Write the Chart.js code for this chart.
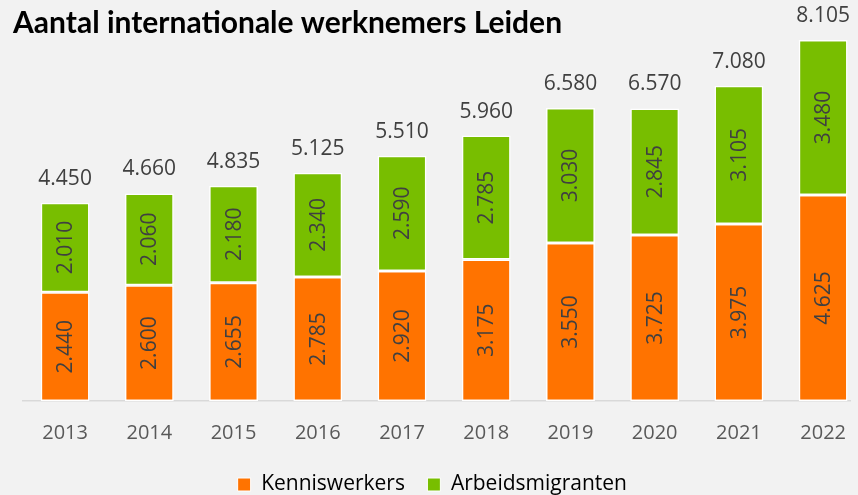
<!DOCTYPE html>
<html>
<head>
<meta charset="utf-8">
<script src="https://cdn.jsdelivr.net/npm/chart.js@4"></script>
<style>
  html, body { margin: 0; padding: 0; background: #f2f2f2; overflow: hidden; }
  /* a bit taller than the window so the legend sits as low as in the original */
  #wrap { width: 858px; height: 505px; position: relative; }
</style>
</head>
<body>
<div id="wrap"><canvas id="chart"></canvas></div>
<script>
const years = [2013, 2014, 2015, 2016, 2017, 2018, 2019, 2020, 2021, 2022];
const kenniswerkers = [2440, 2600, 2655, 2785, 2920, 3175, 3550, 3725, 3975, 4625];
const arbeidsmigranten = [2010, 2060, 2180, 2340, 2590, 2785, 3030, 2845, 3105, 3480];
const totals = [4450, 4660, 4835, 5125, 5510, 5960, 6580, 6570, 7080, 8105];

// ZWNJ keeps Lato from joining "ti" into a ligature
const titleText = 'Aantal interna\u200Ctionale werknemers Leiden';
const labelFont = '"Open Sans", sans-serif';

// 1234 -> "1.234"
function fmt(v) {
  return String(v).replace(/\B(?=(\d{3})+(?!\d))/g, '.');
}

const labelPlugin = {
  id: 'labelPlugin',
  afterDatasetsDraw(chart) {
    const ctx = chart.ctx;
    ctx.save();
    ctx.font = '21px ' + labelFont;
    ctx.fillStyle = '#404040';
    ctx.textAlign = 'center';
    ctx.textBaseline = 'middle';

    // values inside the bars, rotated
    chart.data.datasets.forEach((ds, di) => {
      const meta = chart.getDatasetMeta(di);
      meta.data.forEach((bar, i) => {
        const yMid = (bar.y + bar.base) / 2;
        ctx.save();
        ctx.translate(bar.x, yMid);
        ctx.rotate(-Math.PI / 2);
        ctx.fillText(fmt(ds.data[i]), 0, 1);
        ctx.restore();
      });
    });

    // totals above the stacks
    const top = chart.getDatasetMeta(1);
    top.data.forEach((bar, i) => {
      ctx.fillText(fmt(totals[i]), bar.x, bar.y - 24);
    });

    // title
    ctx.font = 'bold 30px Lato, sans-serif';
    ctx.fillStyle = '#000000';
    ctx.textAlign = 'left';
    ctx.textBaseline = 'alphabetic';
    ctx.fillText(titleText, 13, 33);
    ctx.restore();
  }
};

new Chart(document.getElementById('chart'), {
  type: 'bar',
  data: {
    labels: years,
    datasets: [
      {
        label: 'Kenniswerkers',
        data: kenniswerkers,
        backgroundColor: '#ff7300',
        borderColor: '#ffffff',
        borderWidth: 1.5,
        borderSkipped: false
      },
      {
        label: 'Arbeidsmigranten',
        data: arbeidsmigranten,
        backgroundColor: '#78be00',
        borderColor: '#ffffff',
        borderWidth: 1.5,
        borderSkipped: false
      }
    ]
  },
  options: {
    responsive: true,
    maintainAspectRatio: false,
    animation: false,
    datasets: {
      bar: { barPercentage: 0.58, categoryPercentage: 1 }
    },
    layout: {
      padding: { left: 23, right: 0, top: 2, bottom: 0 }
    },
    plugins: {
      title: { display: false },
      tooltip: { enabled: false },
      legend: {
        position: 'bottom',
        labels: {
          boxWidth: 13,
          boxHeight: 13,
          padding: 17,
          color: '#595959',
          font: { family: labelFont, size: 21 },
          generateLabels(chart) {
            // trailing spaces: gap after the first item, and the
            // whole legend nudged left so it centres on the window
            return chart.data.datasets.map((ds, i) => ({
              text: i === 0 ? ds.label + ' ' : ds.label + '   ',
              fillStyle: ds.backgroundColor,
              strokeStyle: '#ffffff',
              lineWidth: 1,
              datasetIndex: i
            }));
          }
        }
      }
    },
    scales: {
      x: {
        type: 'linear',
        stacked: true,
        offset: false,
        // the last category runs past the right edge, like the original
        min: 2012.5,
        max: 2022.32,
        grid: { display: false, offset: false },
        border: { color: '#d9d9d9', width: 1.5 },
        ticks: {
          stepSize: 1,
          includeBounds: false,
          color: '#595959',
          padding: 12,
          font: { family: labelFont, size: 20 },
          callback: v => String(v)
        }
      },
      y: {
        stacked: true,
        display: false,
        min: 0,
        max: 8960
      }
    }
  },
  plugins: [labelPlugin]
});
</script>
</body>
</html>
